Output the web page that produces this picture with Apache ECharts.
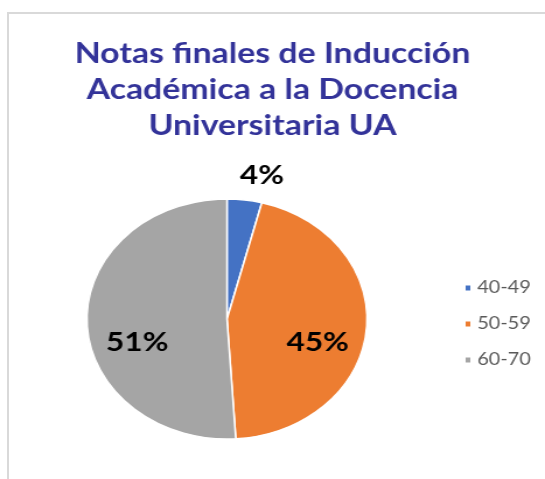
<!DOCTYPE html>
<html>
<head>
<meta charset="utf-8">
<script src="https://cdn.jsdelivr.net/npm/echarts@6/dist/echarts.min.js"></script>
<style>
    html, body { margin: 0; padding: 0; background: #fff; }
    #frame {
        position: absolute; left: 7px; top: 12px; width: 545px; height: 479px;
        border-top: 2px solid #d9d9d9; border-left: 2px solid #d9d9d9;
    }
    /* the reference picture is stretched sideways, so the chart is too */
    #chart {
        position: absolute; left: 0; top: 0; width: 467px; height: 479px;
        transform: scaleX(1.167); transform-origin: 0 0;
    }
</style>
</head>
<body>
<div id="frame"></div>
<div id="chart"></div>
<script>
var titulo = 'Notas finales de Inducción\nAcadémica a la Docencia\nUniversitaria UA';
var rangos = ['40-49', '50-59', '60-70'];
var porcentajes = [4, 45, 51];
var colores = ['#4472C4', '#ED7D31', '#A5A5A5'];

// desplazamiento de cada etiqueta respecto a su sitio por defecto
var ajusteEtiquetas = [[22, -81], [15, 17], [-14, 21]];

var chart = echarts.init(document.getElementById('chart'));

var option = {
    animation: false,
    title: {
        text: titulo,
        left: 'center',
        top: 36,
        padding: [0, 0, 0, 14],
        textStyle: {
            fontFamily: 'Lato',
            fontWeight: 'bold',
            fontSize: 29,
            lineHeight: 36,
            color: '#333399'
        }
    },
    legend: {
        orient: 'vertical',
        left: 392,
        top: 274,
        itemWidth: 6,
        itemHeight: 7,
        itemGap: 18,
        icon: 'rect',
        data: rangos,
        textStyle: {
            fontFamily: 'Lato',
            fontSize: 17,
            lineHeight: 18,
            color: '#595959'
        }
    },
    series: [{
        name: 'Notas',
        type: 'pie',
        center: [194.5, 319],
        radius: 120,
        startAngle: 90,
        clockwise: true,
        percentPrecision: 0,
        itemStyle: {
            borderColor: '#ffffff',
            borderWidth: 1.5
        },
        label: {
            show: true,
            position: 'inside',
            formatter: '{d}%',
            fontFamily: 'Lato',
            fontWeight: 'bold',
            fontSize: 27,
            color: '#000000'
        },
        labelLine: { show: false },
        labelLayout: function (params) {
            var a = ajusteEtiquetas[params.dataIndex];
            return { dx: a[0], dy: a[1] };
        },
        data: rangos.map(function (r, i) {
            return { name: r, value: porcentajes[i], itemStyle: { color: colores[i] } };
        })
    }]
};

chart.setOption(option);
</script>
</body>
</html>
